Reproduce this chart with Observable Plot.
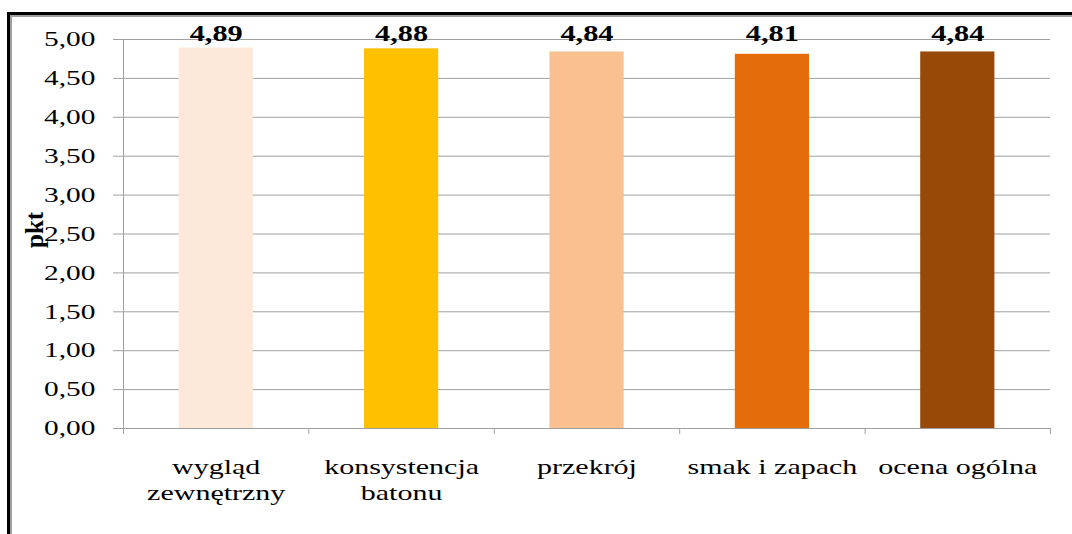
<!DOCTYPE html>
<html>
<head>
<meta charset="utf-8">
<script src="https://cdn.jsdelivr.net/npm/d3@7"></script>
<script src="https://cdn.jsdelivr.net/npm/@observablehq/plot@0.6"></script>
<style>
  html, body { margin: 0; padding: 0; background: #fff; }
  #wrap { position: relative; width: 1072px; height: 534px; overflow: hidden; }
  #frame { position: absolute; left: 7px; top: 12px; right: 0; bottom: 0;
           border-top: 3px solid #000; border-left: 3px solid #000; pointer-events: none; }
  #frame2 { position: absolute; left: 0; top: 0; right: 0; bottom: 0;
           border-top: 2px solid #a0a0a0; border-left: 2px solid #a0a0a0; }
  svg text { font-family: "Liberation Serif", serif; }
</style>
</head>
<body>
<div id="wrap"><div id="chart"></div><div id="frame"><div id="frame2"></div></div></div>
<script>
const categories = ["wygląd\nzewnętrzny", "konsystencja\nbatonu", "przekrój", "smak i zapach", "ocena ogólna"];
const values = [4.89, 4.88, 4.84, 4.81, 4.84];
const colors = ["#FDE9D9", "#FFC000", "#FAC090", "#E46C0A", "#984807"];
const yTicks = [0, 0.5, 1, 1.5, 2, 2.5, 3, 3.5, 4, 4.5, 5];
const yLabel = "pkt";

const data = categories.map((c, i) => ({category: c, value: values[i], index: i}));
const boundaries = d3.range(0, categories.length + 1);
const fmt = d => d.toFixed(2).replace(".", ",");
const grey = "#a0a0a0";
const serif = "Liberation Serif";

const chart = Plot.plot({
  width: 1072,
  height: 534,
  marginLeft: 123,
  marginRight: 22,
  marginTop: 39,
  marginBottom: 106,
  style: {fontFamily: serif, background: "#fff", color: "#000"},
  x: {type: "linear", domain: [0, categories.length], axis: null},
  y: {domain: [0, 5], axis: null},
  color: {domain: categories, range: colors},
  marks: [
    Plot.gridY(yTicks, {stroke: grey, strokeOpacity: 1}),
    Plot.rectY(data, {x1: d => d.index + 0.3, x2: d => d.index + 0.7, y: "value", fill: "category"}),
    Plot.ruleY([0], {stroke: grey}),
    Plot.ruleX([0], {stroke: grey}),
    Plot.axisY(yTicks, {tickSize: 10, tickPadding: 18, tickFormat: fmt, fontSize: 21, fontFamily: serif, stroke: grey, label: null}),
    Plot.axisX(boundaries, {tickSize: 6, tickFormat: () => "", stroke: grey, label: null}),
    Plot.text(data, {x: d => d.index + 0.5, text: d => d.category, frameAnchor: "bottom", lineAnchor: "top", dy: 27, fontSize: 20, fontFamily: serif, lineHeight: 1.3, ariaDescription: "xlabels"}),
    Plot.text(data, {x: d => d.index + 0.5, text: d => fmt(d.value), frameAnchor: "top", lineAnchor: "bottom", dy: 1, fontSize: 23, fontFamily: serif, fontWeight: "bold", ariaDescription: "vlabels"}),
    Plot.text([yLabel], {text: d => d, frameAnchor: "left", dx: -89, dy: 14, rotate: -90, fontSize: 25, fontFamily: serif, fontWeight: "bold", ariaDescription: "ytitle"})
  ]
});
document.getElementById("chart").appendChild(chart);

// horizontal widening of glyphs about each text's own anchor, as in the reference rendering
function widen(selector, s) {
  chart.querySelectorAll(selector).forEach(t => {
    let x = parseFloat(t.getAttribute("x"));
    if (!isFinite(x)) x = 0;
    const tr = t.getAttribute("transform") || "";
    t.setAttribute("transform", `${tr} translate(${x},0) scale(${s},1) translate(${-x},0)`);
  });
}
widen('g[aria-label="y-axis tick label"] text', 1.4);
widen('g[aria-description="vlabels"] text', 1.32);
widen('g[aria-description="xlabels"] text', 1.5);
</script>
</body>
</html>
